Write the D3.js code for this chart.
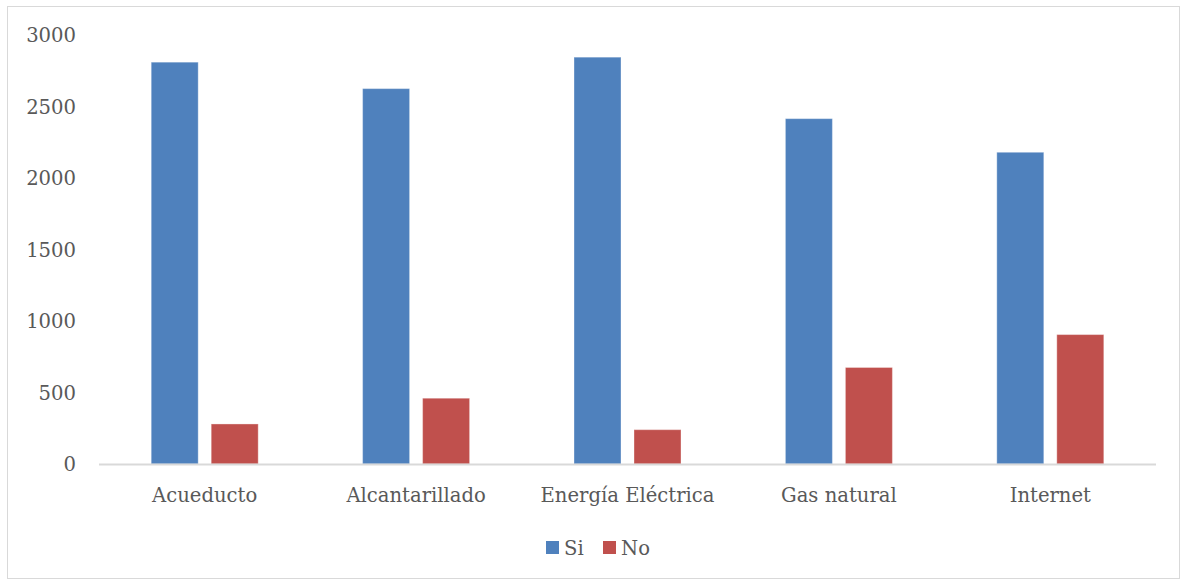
<!DOCTYPE html>
<html><head><meta charset="utf-8">
<script src="https://cdn.jsdelivr.net/npm/d3@7"></script>
<style>body{margin:0;background:#fff}svg{display:block}</style>
</head><body>
<script>
const categories = ["Acueducto","Alcantarillado","Energía Eléctrica","Gas natural","Internet"];
const seriesNames = ["Si","No"];
const siValues = [2810, 2625, 2845, 2415, 2180];
const noValues = [280, 460, 240, 675, 905];
const yTicks = [0, 500, 1000, 1500, 2000, 2500, 3000];
const colors = ["#4F81BD", "#C0504D"];

(function () {
const W = 1185, H = 584;
const svg = d3.select("body").append("svg").attr("width", W).attr("height", H);
svg.append("rect").attr("x", 7.5).attr("y", 6.5).attr("width", 1172).attr("height", 572)
  .attr("fill", "#fff").attr("stroke", "#d9d9d9").attr("stroke-width", 1);

const pLeft = 99, pRight = 1156, pTop = 35, pBottom = 464;
const x = d3.scaleBand().domain(categories).range([pLeft, pRight]).paddingInner(0).paddingOuter(0);
const y = d3.scaleLinear().domain([0, 3000]).range([pBottom, pTop]);
const font = "'DejaVu Serif', serif";
const fs = 19.6;

const barW = 47, gap = 13;
const data = categories.map((c, i) => ({c, vals: [siValues[i], noValues[i]]}));
const g = svg.append("g");
data.forEach(d => {
  const cx = x(d.c) + x.bandwidth() / 2;
  d.vals.forEach((v, k) => {
    const x0 = k === 0 ? cx - gap / 2 - barW : cx + gap / 2;
    g.append("rect").attr("x", x0).attr("y", y(v)).attr("width", barW).attr("height", y(0) - y(v))
      .attr("fill", colors[k]).attr("stroke", "rgba(255,255,255,0.35)").attr("stroke-width", 1);
  });
});

svg.append("line").attr("x1", pLeft).attr("x2", pRight).attr("y1", pBottom + 0.5).attr("y2", pBottom + 0.5)
  .attr("stroke", "#d9d9d9").attr("stroke-width", 2);

const yAxis = d3.axisLeft(y).tickValues(yTicks).tickFormat(d3.format("d")).tickSize(0).tickPadding(0);
const ya = svg.append("g").attr("transform", "translate(76,0)").call(yAxis);
ya.select(".domain").remove();
ya.selectAll("text").attr("font-family", font).attr("font-size", fs).attr("fill", "#595959").attr("dy", "0.35em");

const xAxis = d3.axisBottom(x).tickSize(0).tickPadding(0);
const xa = svg.append("g").attr("transform", `translate(0,${pBottom + 23})`).call(xAxis);
xa.select(".domain").remove();
xa.selectAll("text").attr("font-family", font).attr("font-size", fs).attr("fill", "#595959").attr("dy", "0.35em").attr("y", 8);

const leg = svg.append("g");
const legX = [546, 603];
seriesNames.forEach((s, k) => {
  leg.append("rect").attr("x", legX[k]).attr("y", 541).attr("width", 13).attr("height", 13).attr("fill", colors[k]);
  leg.append("text").attr("x", legX[k] + 18).attr("y", 548).attr("dy", "0.35em")
    .attr("font-family", font).attr("font-size", fs).attr("fill", "#595959").text(s);
});
})();
</script>
</body></html>
